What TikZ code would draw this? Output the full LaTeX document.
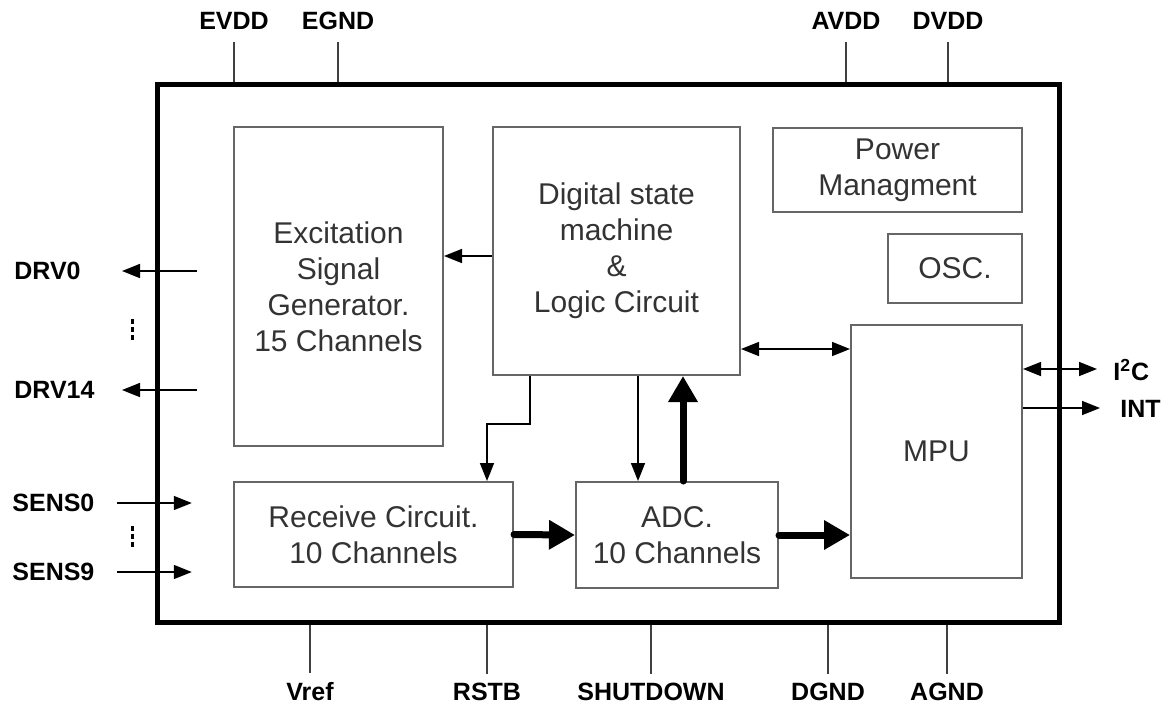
\documentclass[tikz,border=0pt]{standalone}
\usepackage{fontspec}
\setmainfont{Liberation Sans}
\usetikzlibrary{arrows.meta}

\begin{document}
\begin{tikzpicture}[x=0.5pt,y=-0.5pt,
    blk/.style={draw=black!60,line width=1pt,text=black!80,font=\fontsize{15}{18}\selectfont,align=center,inner sep=0pt},
    chip/.style={draw,line width=2.5pt},
    pinlbl/.style={font=\fontsize{12.5}{14}\selectfont\bfseries,inner sep=0pt},
    pin/.style={black!75,line width=0.8pt},
    sig/.style={line width=0.8pt,-{Triangle[length=9pt,width=7pt]}},
    sigb/.style={line width=0.8pt,{Triangle[length=9pt,width=7pt]}-{Triangle[length=9pt,width=7pt]}},
    bus/.style={line width=3.5pt,line cap=round,-{Triangle[length=13pt,width=14pt]}},
    vdots/.style={line width=1.5pt,dash pattern=on 2.5pt off 1.5pt}]
  \useasboundingbox (0,0) rectangle (1176,708);

  \node[chip,minimum width=451pt,minimum height=269pt] (chip) at (608,353) {};

  \node[blk,minimum width=104.5pt,minimum height=159.5pt] (exc) at (338.5,286.5) {Excitation\\Signal\\Generator.\\15 Channels};
  \node[blk,minimum width=123.5pt,minimum height=124pt] (dsm) at (616.5,251) {Digital state\\machine\\\&\\Logic Circuit};
  \node[blk,minimum width=124.5pt,minimum height=42pt] (pwr) at (897.5,170) {Power\\Managment};
  \node[blk,minimum width=67pt,minimum height=34.5pt] (osc) at (955,268.5) {OSC.};
  \node[blk,minimum width=85.5pt,minimum height=126.5pt] (mpu) at (936.5,451.5) {MPU};
  \node[blk,minimum width=139.5pt,minimum height=52.5pt] (rcv) at (373.5,534.5) {Receive Circuit.\\10 Channels};
  \node[blk,minimum width=101pt,minimum height=53pt] (adc) at (677,535) {ADC.\\10 Channels};

  \foreach \n/\t/\x in {evdd/EVDD/234, egnd/EGND/338, avdd/AVDD/846, dvdd/DVDD/948} {
    \node[pinlbl] (\n) at (\x,21) {\t};
    \draw[pin] ([yshift=-6pt]\n.south) -- (\n.south |- chip.north);
  }
  \foreach \n/\t/\x in {vref/Vref/310, rstb/RSTB/487, shdn/SHUTDOWN/651, dgnd/DGND/828, agnd/AGND/947} {
    \node[pinlbl] (\n) at (\x,692) {\t};
    \draw[pin] (\n.north |- chip.south) -- ([yshift=4.5pt]\n.north);
  }

  \coordinate (drvtip) at (122,0);
  \foreach \n/\t/\y in {drv0/DRV0/271, drv14/DRV14/390} {
    \node[pinlbl,anchor=west] (\n) at (14,\y) {\t};
    \coordinate (\n in) at (197,\y);
    \draw[sig] (\n in) -- (\n in -| drvtip);
  }
  \foreach \n/\t/\y in {sens0/SENS0/503, sens9/SENS9/572} {
    \node[pinlbl,anchor=west] (\n) at (12,\y) {\t};
    \draw[sig] ([xshift=11pt]\n.east) -- ++(37.5pt,0);
  }
  \draw[vdots] (132,319) -- (132,341);
  \draw[vdots] (132,526) -- (132,548);

  \node[pinlbl,anchor=west] (i2c) at (1113,370) {I\textsuperscript{2}C};
  \node[pinlbl,anchor=west] (int) at (1120,409) {INT};
  \coordinate (i2cs) at ([yshift=-22.5pt]mpu.north east);
  \coordinate (ints) at ([yshift=-42pt]mpu.north east);
  \draw[sigb] (i2cs) -- ([xshift=-8pt]i2c.west |- i2cs);
  \draw[sig] (ints) -- ([xshift=-10pt]int.west |- ints);

  \coordinate (d2e) at ([yshift=-2.5pt]dsm.west);
  \draw[sig] (d2e) -- (d2e -| exc.east);
  \coordinate (d2m) at ([yshift=13.5pt]dsm.south east);
  \draw[sigb] (d2m) -- (d2m -| mpu.west);
  \coordinate (d2r) at ([xshift=19pt]dsm.south west);
  \coordinate (r2d) at ([xshift=127pt]rcv.north west);
  \draw[sig] (d2r) -- ++(0,-24pt) -| (r2d);
  \coordinate (d2a) at ([xshift=73pt]dsm.south west);
  \draw[sig] (d2a) -- (d2a |- adc.north);
  \coordinate (a2d) at ([xshift=54pt]adc.north west);
  \draw[bus] (a2d) -- (a2d |- dsm.south);
  \draw[bus] (rcv.east) -- (adc.west);
  \draw[bus] (adc.east) -- (mpu.west |- adc.east);
\end{tikzpicture}
\end{document}
